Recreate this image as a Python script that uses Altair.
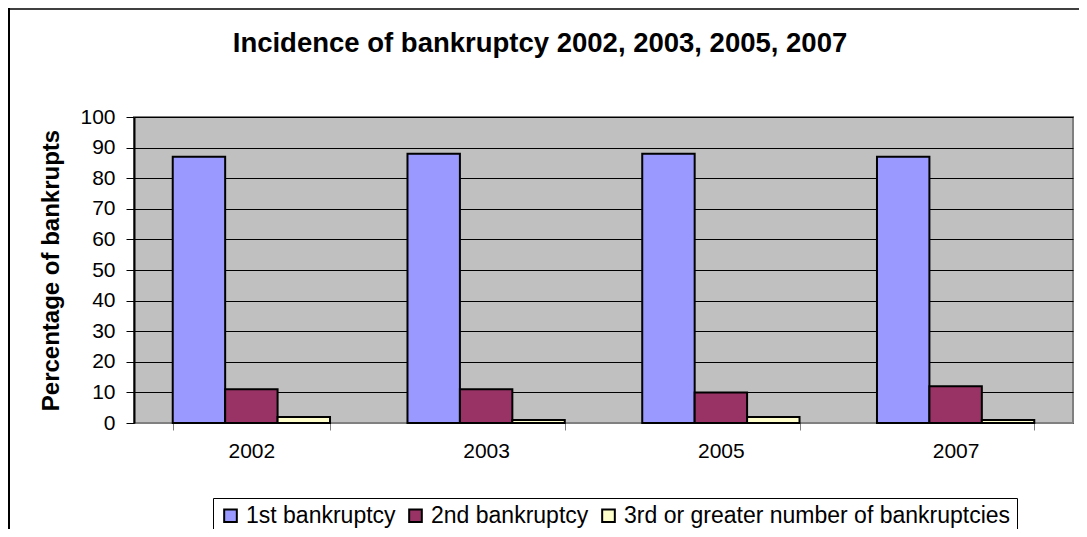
import altair as alt
import pandas as pd

years = ["2002", "2003", "2005", "2007"]
series = ["1st bankruptcy", "2nd bankruptcy", "3rd or greater number of bankruptcies"]
first = [87, 88, 88, 87]
second = [11, 11, 10, 12]
third = [2, 1, 2, 1]
colors = ["#9999FF", "#993366", "#FFFFCC"]
y_ticks = list(range(0, 101, 10))
title_text = "Incidence of bankruptcy 2002, 2003, 2005, 2007"
y_title = "Percentage of bankrupts"

rows = []
for i, yr in enumerate(years):
    for s, vals in zip(series, [first, second, third]):
        rows.append({"year": yr, "series": s, "value": vals[i]})
df = pd.DataFrame(rows)

FONT = "Liberation Sans"
W, H = 939, 306

bars = alt.Chart(df).mark_bar(stroke="black", strokeWidth=2).encode(
    x=alt.X(
        "year:N", sort=years,
        scale=alt.Scale(paddingInner=0.33, paddingOuter=0.165),
        axis=alt.Axis(title=None, labelAngle=0, labelFontSize=21, labelFont=FONT,
                      labelColor="black", domainColor="#808080", domainWidth=1,
                      tickColor="#808080", tickSize=7, tickBand="extent",
                      labelPadding=10, grid=False),
    ),
    xOffset=alt.XOffset("series:N", sort=series,
                        scale=alt.Scale(paddingInner=0, paddingOuter=0)),
    y=alt.Y(
        "value:Q",
        scale=alt.Scale(domain=[0, 100], nice=False),
        axis=alt.Axis(values=y_ticks, title=y_title, labelFontSize=21, labelFont=FONT,
                      labelColor="black", domainColor="black", domainWidth=2,
                      tickColor="black", tickSize=8, labelPadding=11,
                      gridColor="black", gridWidth=1,
                      titleFont=FONT, titleFontSize=24, titleFontWeight="bold",
                      titleColor="black", titleX=-83, titleY=153, titleAngle=270,
                      titleAlign="center", titleBaseline="middle"),
    ),
    color=alt.Color(
        "series:N", sort=series,
        scale=alt.Scale(domain=series, range=colors),
        legend=alt.Legend(title=None, orient="none", legendX=79, legendY=381,
                          direction="horizontal", strokeColor="black",
                          fillColor="white", padding=6,
                          symbolType="square", symbolSize=160,
                          symbolStrokeColor="black", symbolStrokeWidth=2,
                          symbolOpacity=1, labelLimit=800,
                          labelFontSize=23, labelFont=FONT, labelColor="black",
                          columnPadding=8, labelOffset=4),
    ),
)

title_df = pd.DataFrame({"t": [title_text]})
title = alt.Chart(title_df).mark_text(
    font=FONT, fontSize=27.5, fontWeight="bold", color="black",
    align="center", baseline="alphabetic",
).encode(text="t:N", x=alt.value(406), y=alt.value(-65))

frame_df = pd.DataFrame({"a": [0]})
top_line = alt.Chart(frame_df).mark_rule(color="#404040", strokeWidth=2).encode(
    x=alt.value(-126), x2=alt.value(W + 6), y=alt.value(-108), y2=alt.value(-108))
left_line = alt.Chart(frame_df).mark_rule(color="black", strokeWidth=2).encode(
    x=alt.value(-125), x2=alt.value(-125), y=alt.value(-109), y2=alt.value(H + 106))

chart = alt.layer(bars, title, top_line, left_line).properties(
    width=W, height=H,
    autosize=alt.AutoSizeParams(type="none"),
    padding={"left": 126, "top": 109, "right": 6, "bottom": 106},
    background="white",
).configure_view(fill="#C0C0C0", stroke="#808080", strokeWidth=2)

chart.save("out.html", embed_options={"renderer": "svg", "actions": False})
